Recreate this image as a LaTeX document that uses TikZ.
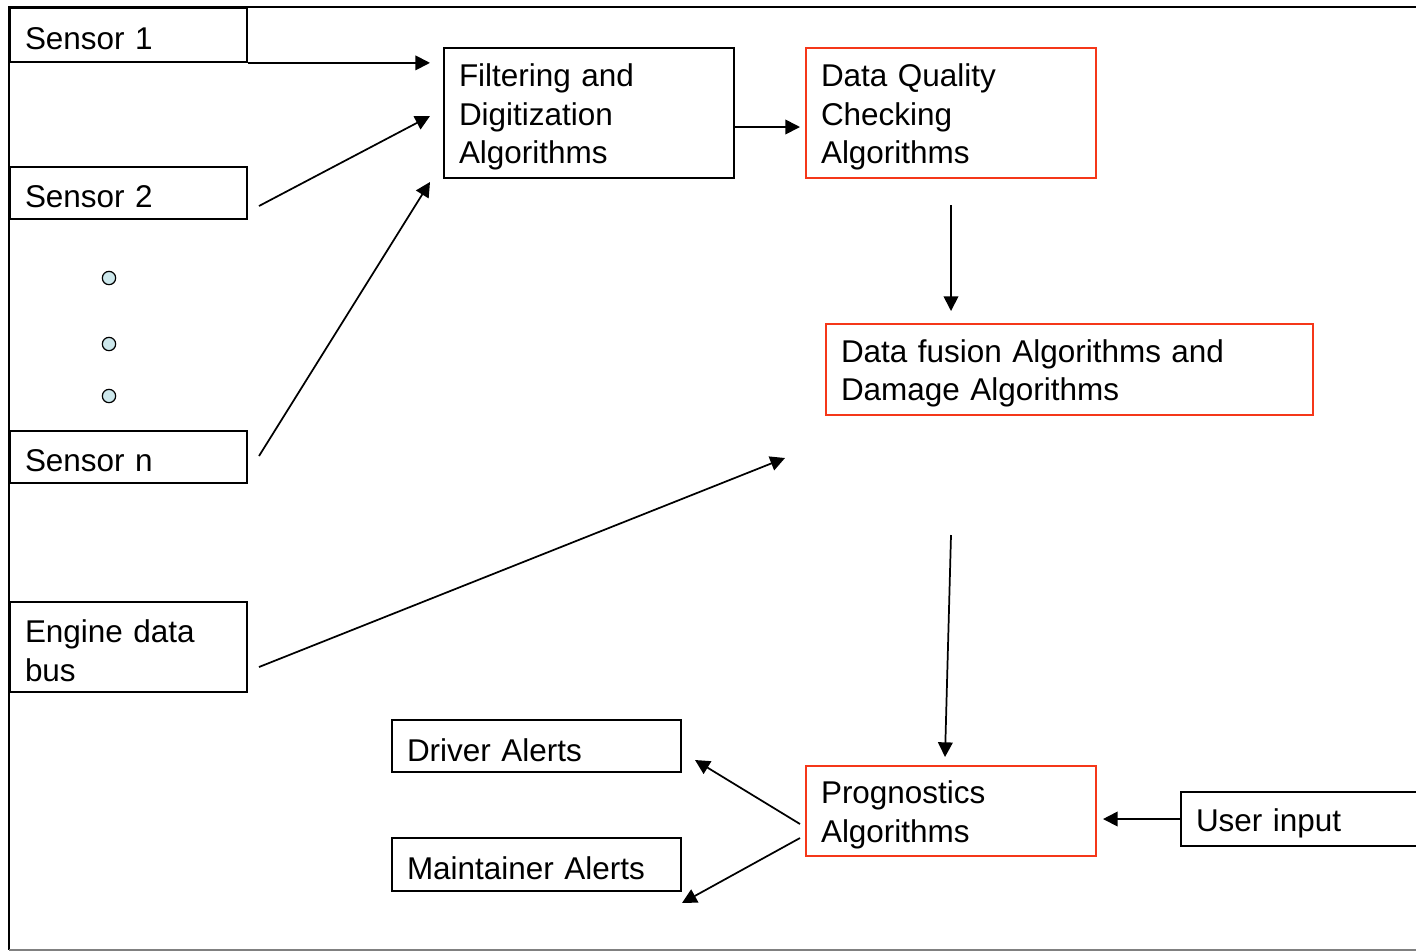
\documentclass[tikz,border=0pt]{standalone}
\usepackage{fontspec}
\setmainfont{Liberation Sans}
\usetikzlibrary{arrows.meta}
\definecolor{boxred}{RGB}{245,55,25}
\definecolor{dotfill}{RGB}{205,232,236}
\begin{document}
\begin{tikzpicture}[x=0.75pt,y=-0.75pt,
  every node/.style={font=\fontsize{23.6pt}{28.9pt}\selectfont},
  bx/.style 2 args={draw, line width=1.3pt, inner sep=0pt,
     minimum width=#1, minimum height=#2, anchor=center},
  redbx/.style 2 args={bx={#1}{#2}, draw=boxred},
  txt/.style={text width=#1, align=left, inner sep=0pt, yshift=-3pt},
  arr/.style={line width=1.3pt, -{Triangle[length=11pt,width=11pt]}},
  dot/.style={circle, draw, line width=0.9pt, fill=dotfill, minimum size=10pt, inner sep=0pt}]
\useasboundingbox (0,0) rectangle (1416,951);
\begin{scope}
\clip (0,0) rectangle (1416,951);
% outer frame
\draw[line width=1.3pt] (1420,7) -- (9,7) -- (9,950);
\draw[line width=1.3pt, gray] (9,950) -- (1420,950);

% sources
\node[bx={177.75pt}{40.5pt}, label={[txt=155.25pt]center:{Sensor 1}}] (s1) at (128.5,35) {};
\node[bx={177.75pt}{39pt}, label={[txt=155.25pt]center:{Sensor 2}}] (s2) at (128.5,193) {};
\node[bx={177.75pt}{39pt}, label={[txt=155.25pt]center:{Sensor n}}] (sn) at (128.5,457) {};
\node[bx={177.75pt}{67.5pt}, label={[txt=155.25pt]center:{Engine data\\bus}}] (eng) at (128.5,647) {};

\node[dot] (d1) at (109,278) {};
\node[dot] (d2) at (109,344) {};
\node[dot] (d3) at (109,396) {};

% processing
\node[bx={217.5pt}{97.5pt}, label={[txt=195pt]center:{Filtering and\\Digitization\\Algorithms}}] (filt) at (589,113) {};
\node[redbx={217.5pt}{97.5pt}, label={[txt=195pt]center:{Data Quality\\Checking\\Algorithms}}] (dq) at (951,113) {};
\node[redbx={365.25pt}{68.25pt}, label={[txt=342.75pt]center:{Data fusion Algorithms and\\Damage Algorithms}}] (fus) at (1069.5,369.5) {};
\node[redbx={217.5pt}{67.5pt}, label={[txt=195pt]center:{Prognostics\\Algorithms}}] (prog) at (951,811) {};

% outputs
\node[bx={216.75pt}{39pt}, label={[txt=194.25pt]center:{Driver Alerts}}] (drv) at (536.5,746) {};
\node[bx={216.75pt}{39.75pt}, label={[txt=194.25pt]center:{Maintainer Alerts}}] (mnt) at (536.5,864.5) {};
\node[bx={201pt}{40.5pt}, label={[txt=178.5pt]center:{User input}}] (user) at (1315,819) {};

% free arrow ends
\coordinate (t1) at (430,62);
\coordinate (a2) at (259,206);
\coordinate (t2) at (430,116);
\coordinate (an) at (259,456);
\coordinate (tn) at (430,182);
\coordinate (ae) at (259,667);
\coordinate (te) at (785,458);
\coordinate (af) at (734,127);
\coordinate (tf) at (800,127);
\coordinate (aq) at (951,205);
\coordinate (tq) at (951,311);
\coordinate (au) at (951,535);
\coordinate (tu) at (945,757);
\coordinate (ad) at (800,824);
\coordinate (td) at (695,760);
\coordinate (am) at (800,838);
\coordinate (tm) at (682,903);
\coordinate (tp) at (1103,819);

\draw[arr] (s1.south east) -- (t1 |- s1.south east);
\draw[arr] (a2) -- (t2);
\draw[arr] (an) -- (tn);
\draw[arr] (ae) -- (te);
\draw[arr] (af) -- (tf);
\draw[arr] (aq) -- (tq);
\draw[arr] (au) -- (tu);
\draw[arr] (ad) -- (td);
\draw[arr] (am) -- (tm);
\draw[arr] (user.west) -- (tp);
\end{scope}
\end{tikzpicture}
\end{document}
